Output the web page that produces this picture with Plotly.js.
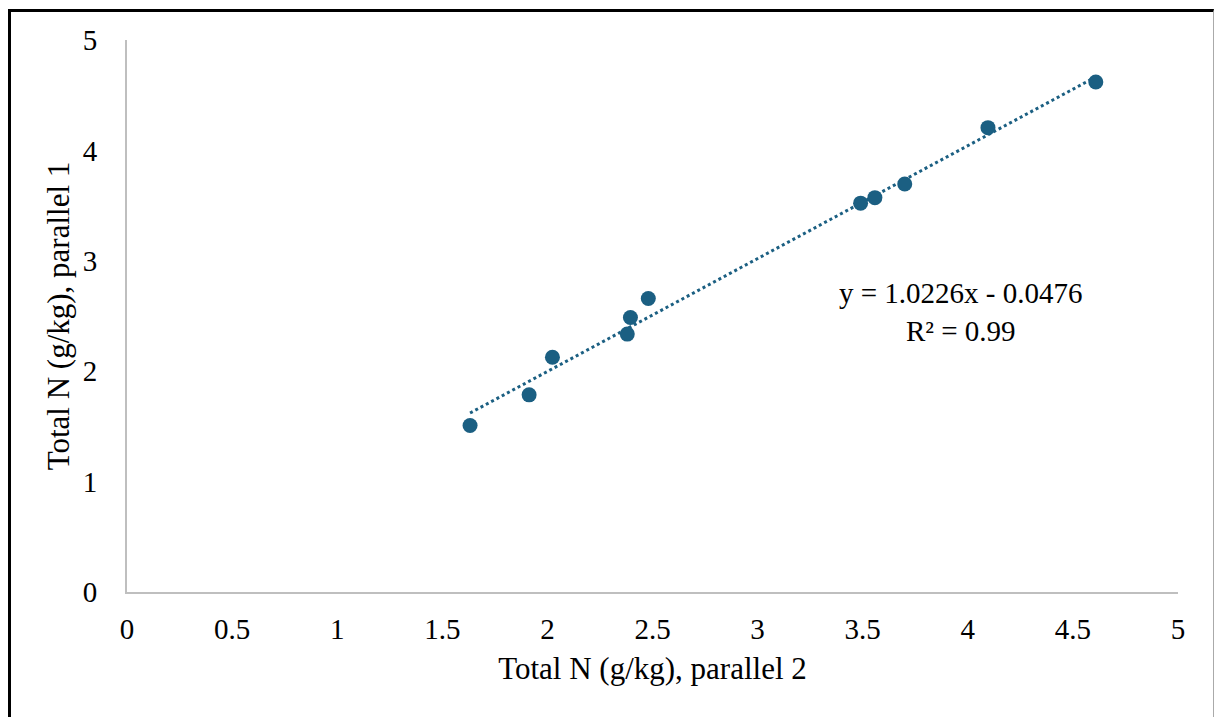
<!DOCTYPE html>
<html>
<head>
<meta charset="utf-8">
<script src="https://cdn.plot.ly/plotly-3.0.1.min.js"></script>
<style>
  html, body { margin: 0; padding: 0; background: #fff; }
  #wrap { position: relative; width: 1215px; height: 717px; overflow: hidden; }
  #chart { position: absolute; left: 0; top: 0; width: 1215px; height: 717px; }
  #frame { position: absolute; left: 8px; top: 9px; width: 1202px; height: 720px;
           border-left: 3px solid #000; border-top: 3px solid #000; border-right: 1px solid #aaa;
           pointer-events: none; }
</style>
</head>
<body>
<div id="wrap">
  <div id="chart"></div>
  <div id="frame"></div>
</div>
<script>
// Data
const parallel2 = [1.632, 1.913, 2.024, 2.380, 2.395, 2.480, 3.490, 3.558, 3.700, 4.096, 4.609];
const parallel1 = [1.508, 1.786, 2.127, 2.336, 2.486, 2.658, 3.522, 3.572, 3.696, 4.206, 4.620];
const slope = 1.0226;
const intercept = -0.0476;
const r2Label = "R² = 0.99";
const xTicks = [0, 0.5, 1, 1.5, 2, 2.5, 3, 3.5, 4, 4.5, 5];
const yTicks = [0, 1, 2, 3, 4, 5];
const xTitle = "Total N (g/kg), parallel 2";
const yTitle = "Total N (g/kg), parallel 1";

const color = "#1b5f82";
const font = "Liberation Serif, Times New Roman, serif";

const xMin = Math.min(...parallel2), xMax = Math.max(...parallel2);
const trendX = [xMin, xMax];
const trendY = trendX.map(x => slope * x + intercept);

const eqLabel = "y = " + slope.toFixed(4) + "x - " + Math.abs(intercept).toFixed(4);

const traces = [
  {
    x: trendX, y: trendY, type: "scatter", mode: "lines",
    line: { color: color, width: 3, dash: "dot" },
    hoverinfo: "skip", showlegend: false
  },
  {
    x: parallel2, y: parallel1, type: "scatter", mode: "markers",
    marker: { color: color, size: 15 },
    showlegend: false
  }
];

const layout = {
  width: 1215, height: 717,
  margin: { l: 127, r: 37, t: 40, b: 125 },
  paper_bgcolor: "#fff", plot_bgcolor: "#fff",
  font: { family: font, color: "#000", size: 29 },
  showlegend: false,
  xaxis: {
    range: [0, 5], tickvals: xTicks, ticktext: xTicks.map(String),
    showgrid: false, zeroline: false, showline: true, linecolor: "#bfbfbf", linewidth: 2,
    ticks: "", ticklabelstandoff: 10,
    tickfont: { family: font, size: 29, color: "#000" },
    title: { text: xTitle, font: { family: font, size: 31, color: "#000" }, standoff: 14 }
  },
  yaxis: {
    range: [0, 5], tickvals: yTicks, ticktext: yTicks.map(String),
    showgrid: false, zeroline: false, showline: true, linecolor: "#bfbfbf", linewidth: 2,
    ticks: "", ticklabelstandoff: 22,
    tickfont: { family: font, size: 29, color: "#000" },
    title: { text: yTitle, font: { family: font, size: 31, color: "#000" }, standoff: 4 }
  },
  annotations: [
    {
      x: 3.97, y: 2.54, xref: "x", yref: "y",
      text: eqLabel + "<br>" + r2Label,
      showarrow: false, align: "center",
      font: { family: font, size: 29, color: "#000" }
    }
  ]
};

Plotly.newPlot("chart", traces, layout, { displayModeBar: false, staticPlot: true });
</script>
</body>
</html>
